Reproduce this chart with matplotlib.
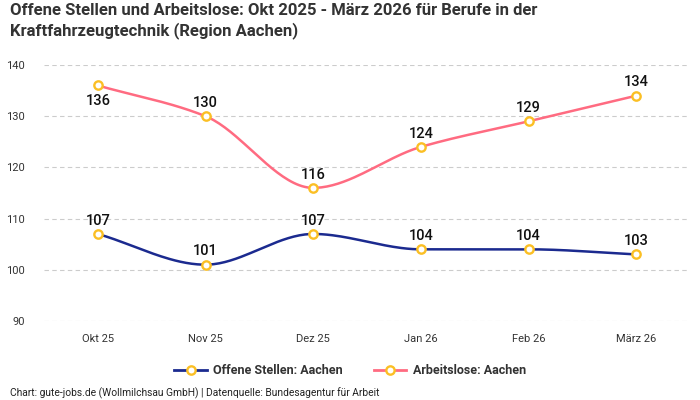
import numpy as np
import matplotlib
matplotlib.use("Agg")
import matplotlib.pyplot as plt
from matplotlib.lines import Line2D

categories = ["Okt 25", "Nov 25", "Dez 25", "Jan 26", "Feb 26", "März 26"]
offene = [107, 101, 107, 104, 104, 103]
arbeitslose = [136, 130, 116, 124, 129, 134]
yticks = [90, 100, 110, 120, 130, 140]

plt.rcParams['font.family'] = ['Roboto', 'DejaVu Sans']

BLUE = "#1b2a8f"
RED = "#ff6b81"
YELLOW = "#fbbf24"
TXT = "#333333"


def pchip(x, y, n=40):
    x = np.asarray(x, float); y = np.asarray(y, float)
    h = np.diff(x); d = np.diff(y) / h
    m = np.zeros_like(y)
    for k in range(1, len(y) - 1):
        if d[k - 1] * d[k] <= 0:
            m[k] = 0
        else:
            w1 = 2 * h[k] + h[k - 1]; w2 = h[k] + 2 * h[k - 1]
            m[k] = (w1 + w2) / (w1 / d[k - 1] + w2 / d[k])
    m[0] = d[0]; m[-1] = d[-1]
    xs, ys = [], []
    for k in range(len(h)):
        t = np.linspace(0, 1, n)
        h00 = 2 * t**3 - 3 * t**2 + 1; h10 = t**3 - 2 * t**2 + t
        h01 = -2 * t**3 + 3 * t**2; h11 = t**3 - t**2
        xs.append(x[k] + t * h[k])
        ys.append(h00 * y[k] + h10 * h[k] * m[k] + h01 * y[k + 1] + h11 * h[k] * m[k + 1])
    return np.concatenate(xs), np.concatenate(ys)


fig = plt.figure(figsize=(7, 4), dpi=100)
ax = fig.add_axes([44 / 700, 1 - 321 / 400, 646 / 700, 256 / 400])
x = np.arange(len(categories))

for vals, col in [(offene, BLUE), (arbeitslose, RED)]:
    sx, sy = pchip(x, vals)
    ax.plot(sx, sy, color=col, lw=1.8, zorder=2)
    ax.plot(x, vals, ls="none", marker="o", ms=6, mfc="white", mec=YELLOW, mew=1.7, zorder=3)

for i, v in enumerate(offene):
    ax.annotate(str(v), (i, v), xytext=(0, 4.5), textcoords="offset points", ha="center", va="bottom",
                fontsize=10.5, color="#111111", fontweight="medium")
for i, v in enumerate(arbeitslose):
    off = -6 if i == 0 else 4.5
    ax.annotate(str(v), (i, v), xytext=(0, off), textcoords="offset points", ha="center",
                va="top" if off < 0 else "bottom", fontsize=10.5, color="#111111", fontweight="medium")

ax.set_xlim(-0.5, len(categories) - 0.5)
ax.set_ylim(90, 140)
ax.set_yticks(yticks)
ax.set_xticks(x)
ax.set_xticklabels(categories)
ax.tick_params(length=0, labelsize=8, colors=TXT)
ax.tick_params(axis="y", pad=14)
ax.tick_params(axis="x", pad=9)
ax.grid(axis="y", color="#cccccc", ls=(0, (4, 3)), lw=0.8)
for s in ax.spines.values():
    s.set_visible(False)

fig.text(10 / 700, 1 - 3 / 400, "Offene Stellen und Arbeitslose: Okt 2025 - März 2026 für Berufe in der\nKraftfahrzeugtechnik (Region Aachen)",
         ha="left", va="top", fontsize=12, fontweight="bold", color=TXT, linespacing=1.3)

handles = [Line2D([], [], color=BLUE, lw=2, marker="o", ms=6, mfc="white", mec=YELLOW, mew=1.7),
           Line2D([], [], color=RED, lw=2, marker="o", ms=6, mfc="white", mec=YELLOW, mew=1.7)]
leg = fig.legend(handles, ["Offene Stellen: Aachen", "Arbeitslose: Aachen"], loc="center",
                 bbox_to_anchor=(350 / 700, 1 - 371 / 400), ncol=2, frameon=False,
                 prop={"size": 9, "weight": "bold"}, handlelength=2.6, columnspacing=2.5, handletextpad=0.5)
for t in leg.get_texts():
    t.set_color(TXT)

fig.text(10 / 700, 1 - 393 / 400, "Chart: gute-jobs.de (Wollmilchsau GmbH) | Datenquelle: Bundesagentur für Arbeit",
         ha="left", va="center", fontsize=7.4, color="#222222")

fig.savefig("out.png", dpi=100, facecolor="white")
